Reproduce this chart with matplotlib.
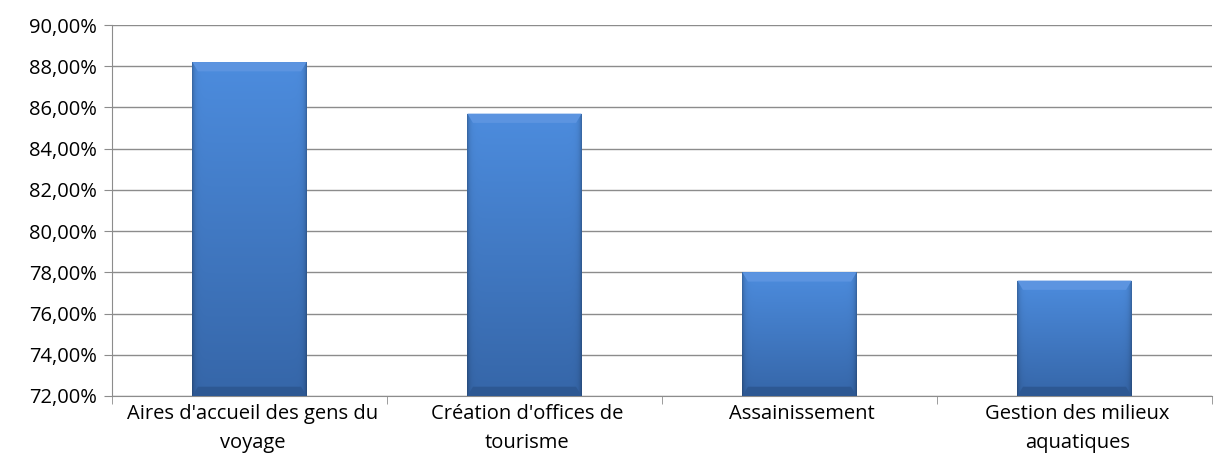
import numpy as np
import matplotlib
matplotlib.use("Agg")
from matplotlib import pyplot as plt
from matplotlib.ticker import FuncFormatter, FixedLocator
from matplotlib.patches import Polygon

categories = ["Aires d'accueil des gens du\nvoyage",
              "Création d'offices de\ntourisme",
              "Assainissement",
              "Gestion des milieux\naquatiques"]
values = [88.2, 85.7, 78.0, 77.6]

plt.rcParams['font.family'] = ['Open Sans', 'DejaVu Sans']

fig = plt.figure(figsize=(12.29, 4.66), dpi=100)
ax = fig.add_axes([112 / 1229, 1 - 396 / 466, 1100 / 1229, 371 / 466])

ymin, ymax = 72, 90
width = 0.415
x = np.arange(len(categories))

# gradient: lighter at top, darker at bottom, darker near the sides
top = np.array([0.30, 0.55, 0.87])
bottom = np.array([0.21, 0.40, 0.66])
ny, nx = 200, 120
vt = np.linspace(0, 1, ny)[:, None, None]          # 0 at top row
img = top[None, None, :] * (1 - vt) + bottom[None, None, :] * vt
hx = np.linspace(0, 1, nx)
edge = np.minimum(hx, 1 - hx) * nx
shade = 1 - 0.25 * np.exp(-edge / 2.5)
img = img * shade[None, :, None]
img = np.repeat(img, 1, axis=0)
img = np.broadcast_to(img, (ny, nx, 3)).copy()

for xi, v in zip(x, values):
    l, r = xi - width / 2, xi + width / 2
    bar = ax.bar(xi, v - ymin, width, bottom=ymin, color='#3b74c4',
                 edgecolor='none', zorder=2)[0]
    im = ax.imshow(img, extent=[l, r, ymin, v], aspect='auto', zorder=3,
                   interpolation='bilinear', origin='upper')
    im.set_clip_path(bar)
    # bevel: top lighter, bottom darker
    bx = 0.02
    by = 0.45
    ax.add_patch(Polygon([[l, v], [r, v], [r - bx, v - by], [l + bx, v - by]],
                         closed=True, color='#5c94e0', lw=0, zorder=4))
    ax.add_patch(Polygon([[l, ymin], [r, ymin], [r - bx, ymin + by], [l + bx, ymin + by]],
                         closed=True, color='#2d5893', lw=0, zorder=4))

ax.set_xlim(-0.5, len(categories) - 0.5)
ax.set_ylim(ymin, ymax)
ax.set_yticks(np.arange(72, 91, 2))
ax.yaxis.set_major_formatter(FuncFormatter(lambda v, p: f"{v:.2f}%".replace('.', ',')))
ax.grid(axis='y', color='#8c8c8c', linewidth=1.0, zorder=0)
ax.set_axisbelow(True)

ax.set_xticks(x + 0.01)
ax.set_xticklabels(categories, fontsize=14.5, linespacing=1.55)
ax.tick_params(axis='x', length=0, pad=6)
ax.xaxis.set_minor_locator(FixedLocator(np.arange(-0.5, len(categories), 1)))
ax.tick_params(axis='x', which='minor', length=6, color='#8c8c8c')
ax.tick_params(axis='y', length=6, color='#8c8c8c', labelsize=14.5, pad=5)

for s in ['top', 'right']:
    ax.spines[s].set_visible(False)
for s in ['left', 'bottom']:
    ax.spines[s].set_color('#8c8c8c')

plt.savefig("out.png", dpi=100)
